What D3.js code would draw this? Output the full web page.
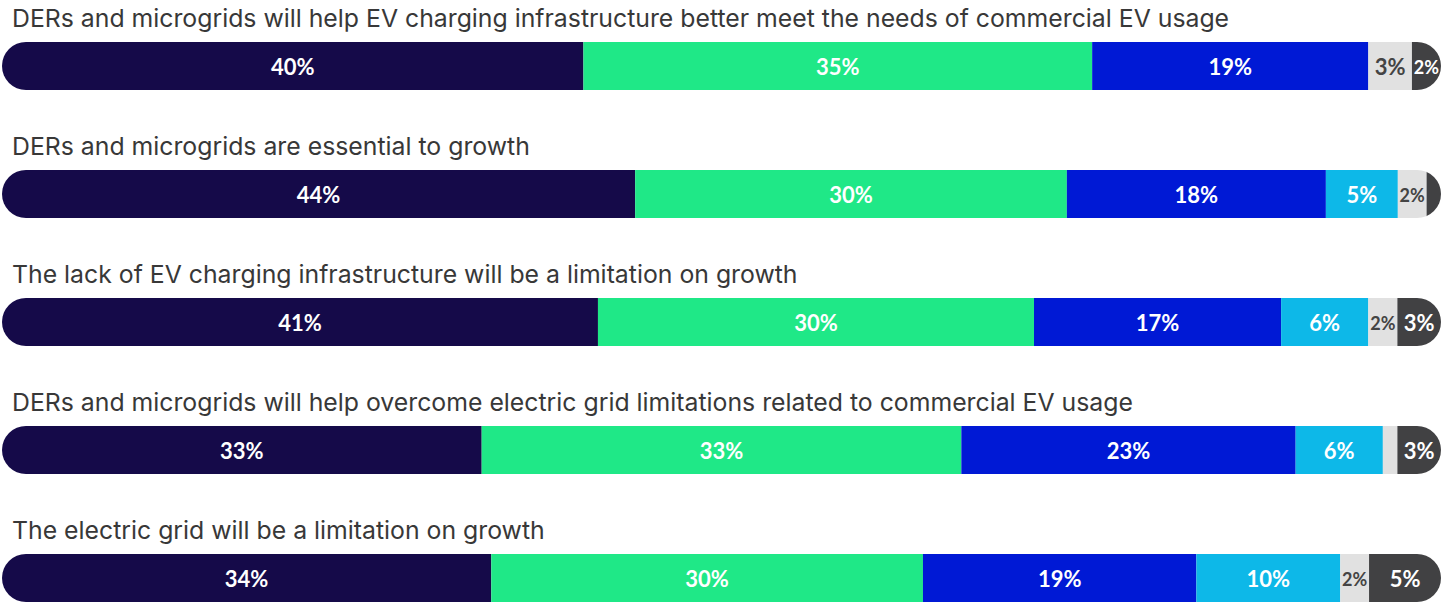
<!DOCTYPE html>
<html>
<head>
<meta charset="utf-8">
<script src="https://cdn.jsdelivr.net/npm/d3@7"></script>
<style>
  html, body { margin: 0; padding: 0; background: #ffffff; }
  svg { display: block; }
</style>
</head>
<body>
<svg id="chart" width="1441" height="605"></svg>
<script>
// Survey statements, one stacked bar each
const questions = [
  "DERs and microgrids will help EV charging infrastructure better meet the needs of commercial EV usage",
  "DERs and microgrids are essential to growth",
  "The lack of EV charging infrastructure will be a limitation on growth",
  "DERs and microgrids will help overcome electric grid limitations related to commercial EV usage",
  "The electric grid will be a limitation on growth"
];

// Response shares (%) per statement, in stacking order
const seriesNavy  = [40, 44, 41, 33, 34];
const seriesGreen = [35, 30, 30, 33, 30];
const seriesBlue  = [19, 18, 17, 23, 19];
const seriesCyan  = [0, 5, 6, 6, 10];
const seriesLight = [3, 2, 2, 1, 2];
const seriesDark  = [2, 1, 3, 3, 5];

const seriesValues = [seriesNavy, seriesGreen, seriesBlue, seriesCyan, seriesLight, seriesDark];
const seriesColors = ["#150a49", "#1fe887", "#0019d5", "#0db8e8", "#e1e1e1", "#414143"];
const labelColors  = ["#ffffff", "#ffffff", "#ffffff", "#ffffff", "#444444", "#ffffff"];

const barLeft = 2, barRight = 1441, barH = 48;

const svg = d3.select("#chart");

const y = d3.scalePoint().domain(questions).range([42, 554]);

const defs = svg.append("defs");

questions.forEach((q, i) => {
  const vals = seriesValues.map(s => s[i]);
  const total = d3.sum(vals);
  const x = d3.scaleLinear().domain([0, total]).range([barLeft, barRight]);
  const y0 = y(q);

  // stacked segments
  let acc = 0;
  const segs = vals.map((v, k) => {
    const s = { v, k, start: acc, end: acc + v };
    acc += v;
    return s;
  }).filter(s => s.v > 0);

  const g = svg.append("g");

  g.append("text")
    .attr("x", 12)
    .attr("y", y0 - 15)
    .attr("fill", "#383838")
    .style("font-family", "Inter, 'Noto Sans', sans-serif")
    .style("font-size", "24.8px")
    .text(q);

  // pill-shaped clip so the stack has rounded ends
  const clipId = "pill-" + i;
  defs.append("clipPath").attr("id", clipId)
    .append("rect")
    .attr("x", x(0)).attr("y", y0)
    .attr("width", x(total) - x(0)).attr("height", barH)
    .attr("rx", barH / 2).attr("ry", barH / 2);

  const bars = g.append("g").attr("clip-path", `url(#${clipId})`);
  bars.selectAll("rect")
    .data(segs)
    .join("rect")
    .attr("x", d => x(d.start))
    .attr("y", y0)
    .attr("width", d => x(d.end) - x(d.start))
    .attr("height", barH)
    .attr("fill", d => seriesColors[d.k]);

  const segW = d => x(d.end) - x(d.start);
  const fontSize = d => segW(d) < 40 ? 18 : 22;

  g.selectAll("text.val")
    .data(segs.filter(d => segW(d) >= 20))
    .join("text")
    .attr("class", "val")
    .attr("x", d => (x(d.start) + x(d.end)) / 2)
    .attr("y", d => y0 + 25.3 + 0.36 * fontSize(d))
    .attr("text-anchor", "middle")
    .attr("fill", d => labelColors[d.k])
    .style("font-family", "Lato, sans-serif")
    .style("font-weight", "700")
    .style("font-size", d => fontSize(d) + "px")
    .text(d => d.v + "%");
});
</script>
</body>
</html>
